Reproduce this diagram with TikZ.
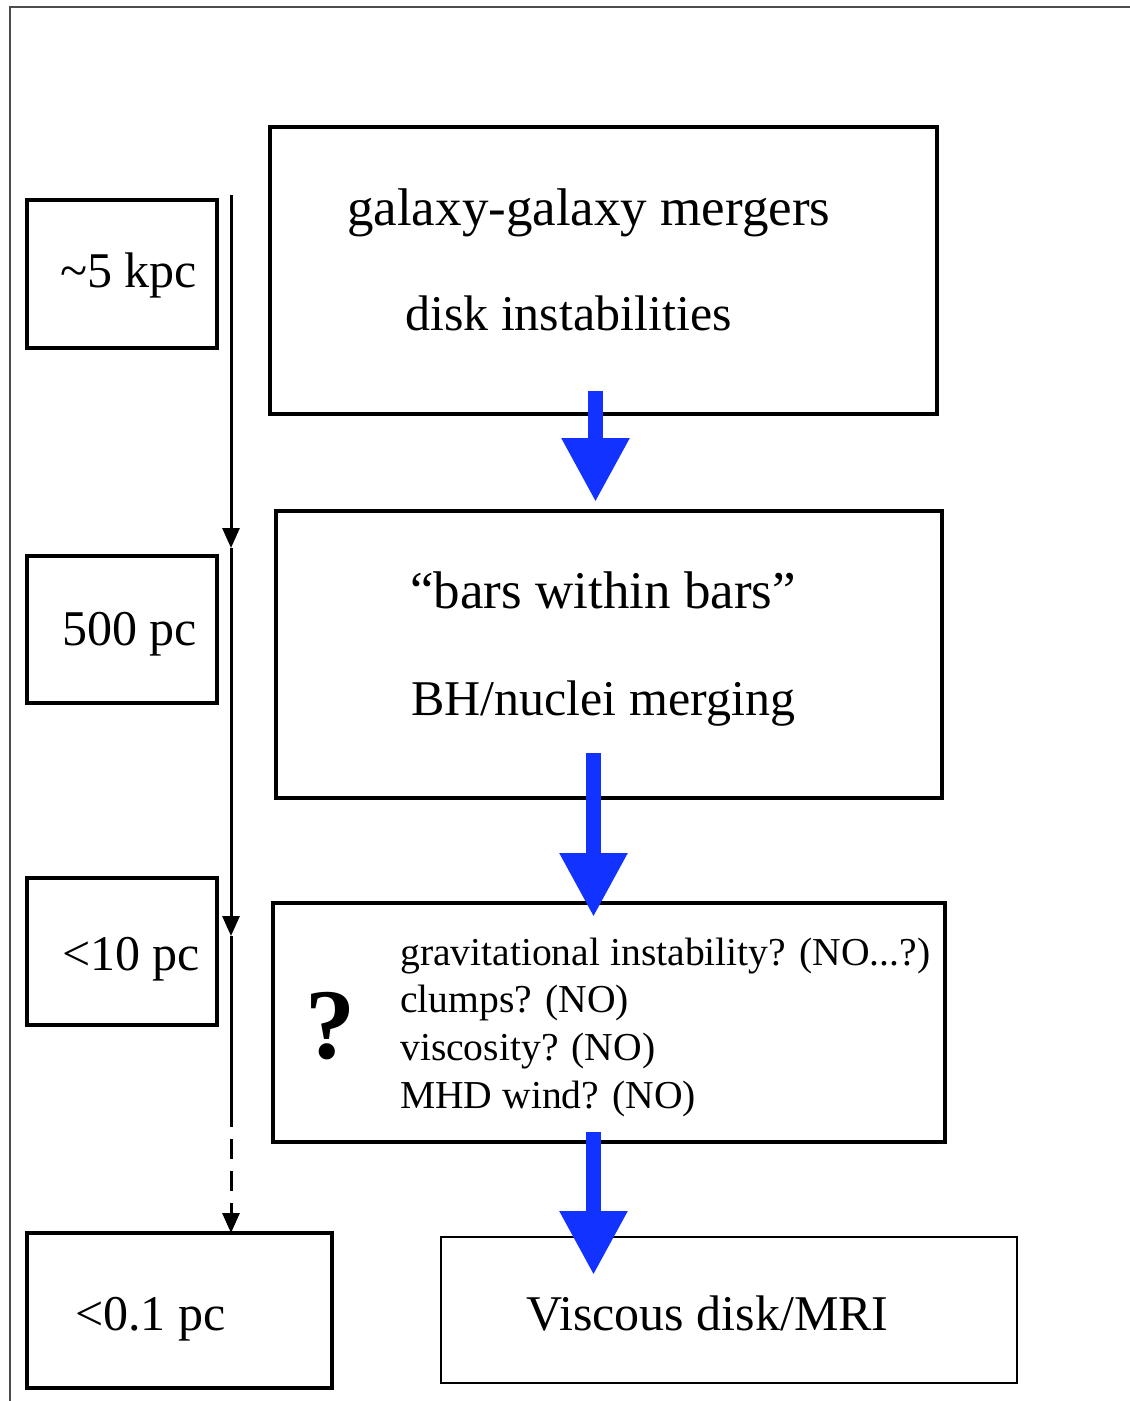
\documentclass[tikz,border=0pt]{standalone}
\usepackage{fontspec}
\setmainfont{Liberation Serif}
\usetikzlibrary{arrows.meta}
\definecolor{flowblue}{RGB}{18,50,255}
\definecolor{framegray}{gray}{0.3}
\tikzset{
  box/.style={draw, line width=4pt, inner sep=0pt, outer sep=0pt, rectangle},
  thinbox/.style={draw, line width=2.5pt, inner sep=0pt, outer sep=0pt, rectangle},
  big/.style={inner sep=0pt, anchor=base west, font=\fontsize{50}{60}\selectfont},
  bigger/.style={inner sep=0pt, anchor=base west, font=\fontsize{53}{62}\selectfont},
  small/.style={inner sep=0pt, anchor=base west, font=\fontsize{39.6}{48}\selectfont},
  flow/.style={draw=flowblue, line width=15pt, -{Triangle[length=64pt 0 0, width=64pt 0 0]}, flowblue},
  scaleline/.style={line width=3pt, -{Triangle[length=20pt 0 0, width=17pt 0 0]}}
}
\begin{document}
\begin{tikzpicture}[x=1pt, y=-1pt]
\useasboundingbox (0,0) rectangle (1130,1401);
% outer frame
\draw[framegray, line width=2pt] (10,1401) -- (10,7) -- (1130,7);

% scale boxes
\node[box, minimum width=190pt, minimum height=148pt] (A) at (122,274) {};
\node[box, minimum width=190pt, minimum height=147pt] (B) at (122,629.5) {};
\node[box, minimum width=190pt, minimum height=147pt] (C) at (122,951.5) {};
\node[box, minimum width=305pt, minimum height=155pt] (D) at (179.5,1310.5) {};

\node[big] (tA) at (60,287) {\textasciitilde5 kpc};
\node[big] (tB) at (62,645) {500 pc};
\node[big] (tC) at (62,970) {<10 pc};
\node[big] (tD) at (75,1330) {<0.1 pc};

% main boxes
\node[box, minimum width=667pt, minimum height=287pt] (M1) at (603.5,270.5) {};
\node[box, minimum width=666pt, minimum height=287pt] (M2) at (609,654.5) {};
\node[box, minimum width=672pt, minimum height=239pt] (M3) at (609,1022.5) {};
\node[thinbox, minimum width=576pt, minimum height=146pt] (M4) at (729,1310) {};

\node[bigger] (t11) at (347,225) {galaxy-galaxy mergers};
\node[big] (t12) at (405,330) {disk instabilities};
\node[bigger] (t21) at (410,608) {“bars within bars”};
\node[big] (t22) at (411,715) {BH/nuclei merging};
\node[small] (t31) at (400,965) {gravitational instability? (NO...?)};
\node[small] (t32) at (400,1012) {clumps? (NO)};
\node[small] (t33) at (400,1060) {viscosity? (NO)};
\node[small] (t34) at (400,1108) {MHD wind? (NO)};
\node[inner sep=0pt, anchor=base west, font=\bfseries\fontsize{100}{110}\selectfont] (q) at (305,1058) {?};
\node[big] (t41) at (526,1330) {Viscous disk/MRI};

% scale line
\coordinate (s0) at (231,195);
\coordinate (s1) at (231,548);
\coordinate (s2) at (231,936);
\coordinate (s3) at (231,1107);
\draw[scaleline] (s0) -- (s1);
\draw[scaleline] (s1) -- (s2);
\draw[line width=3pt] (s2) -- (s3);
\draw[scaleline, dash pattern=on 20pt off 12pt] (s3) -- (D.north -| s0);

% blue flow arrows
\coordinate (f1a) at (595.5,391);
\coordinate (f2a) at (593.5,753);
\coordinate (f3a) at (593.5,1132);
\draw[flow] (f1a) -- (595.5,502);
\draw[flow] (f2a) -- (593.5,917);
\draw[flow] (f3a) -- (593.5,1275);
\end{tikzpicture}
\end{document}
